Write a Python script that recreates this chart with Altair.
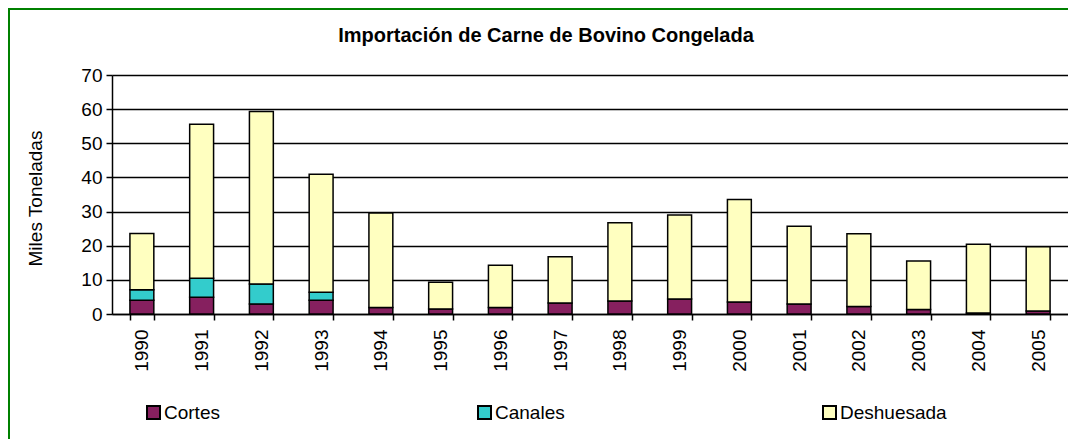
import altair as alt
import pandas as pd

years = [str(y) for y in range(1990, 2006)]
cortes = [4.0, 4.9, 2.9, 4.0, 1.9, 1.5, 1.9, 3.2, 3.8, 4.4, 3.5, 2.9, 2.2, 1.3, 0.3, 0.9]
canales = [3.1, 5.6, 5.9, 2.4, 0, 0, 0, 0, 0, 0, 0, 0, 0, 0, 0, 0]
deshuesada = [16.5, 45.1, 50.5, 34.5, 27.7, 7.8, 12.4, 13.6, 22.9, 24.6, 30.0, 22.8, 21.3, 14.2, 20.1, 18.8]
series = ["Cortes", "Canales", "Deshuesada"]
colors = ["#86205F", "#33CCCC", "#FFFFC0"]
title_text = ["Importación de Carne de Bovino Congelada"]

rows = []
for i, y in enumerate(years):
    for k, (name, vals) in enumerate(zip(series, [cortes, canales, deshuesada])):
        if vals[i] > 0:
            rows.append({"Año": y, "Tipo": name, "Valor": vals[i], "ord": k})
df = pd.DataFrame(rows)

FONT = "Liberation Sans"
W, H = 956, 239

bars = alt.Chart(df).mark_bar(stroke="black", strokeWidth=1.5, opacity=1).encode(
    x=alt.X("Año:N", sort=years,
            scale=alt.Scale(paddingInner=0.6, paddingOuter=0.3),
            axis=alt.Axis(title=None, labelAngle=270, tickBand="extent",
                          labelFont=FONT, labelFontSize=19, labelColor="black",
                          labelPadding=9, tickSize=6, tickColor="black", tickWidth=1.5,
                          domainColor="black", domainWidth=1.5, grid=False)),
    y=alt.Y("Valor:Q", stack="zero",
            scale=alt.Scale(domain=[0, 70], nice=False),
            axis=alt.Axis(title="Miles Toneladas", values=list(range(0, 71, 10)),
                          labelFont=FONT, labelFontSize=19, labelColor="black",
                          labelPadding=4, tickSize=6, tickColor="black", tickWidth=1.5,
                          domainColor="black", domainWidth=1.5,
                          grid=True, gridColor="black", gridWidth=1.6,
                          titleFont=FONT, titleFontSize=19, titleFontWeight="normal",
                          titleColor="black", titleAngle=270, titleX=-77, titleY=123,
                          titleAlign="center", titleBaseline="middle")),
    fill=alt.Fill("Tipo:N", sort=series,
                  scale=alt.Scale(domain=series, range=colors),
                  legend=alt.Legend(title=None, orient="none", direction="horizontal",
                                    legendX=32, legendY=328, symbolType="square",
                                    symbolSize=169, symbolStrokeColor="black",
                                    symbolStrokeWidth=2, symbolOpacity=1,
                                    labelFont=FONT, labelFontSize=19, labelColor="black",
                                    labelOffset=1, columnPadding=254, padding=0)),
    order=alt.Order("ord:Q", sort="ascending"),
)

frame = alt.Chart(pd.DataFrame({"a": [0]})).mark_rect(
    fill=None, stroke="#008000", strokeWidth=2
).encode(
    x=alt.value(-103), x2=alt.value(1000), y=alt.value(-66), y2=alt.value(420)
)

title = alt.Chart(pd.DataFrame({"t": title_text})).mark_text(
    font=FONT, fontSize=20, fontWeight="bold", color="black",
    align="center", baseline="alphabetic"
).encode(text="t:N", x=alt.value(434), y=alt.value(-33))

chart = alt.layer(frame, bars, title).properties(
    width=W, height=H,
    autosize=alt.AutoSizeParams(type="none"),
    padding={"left": 104, "top": 67, "right": 0, "bottom": 125},
).configure_view(stroke=None).configure(background="white")

chart.save("out.html", embed_options={"renderer": "svg", "actions": False})
